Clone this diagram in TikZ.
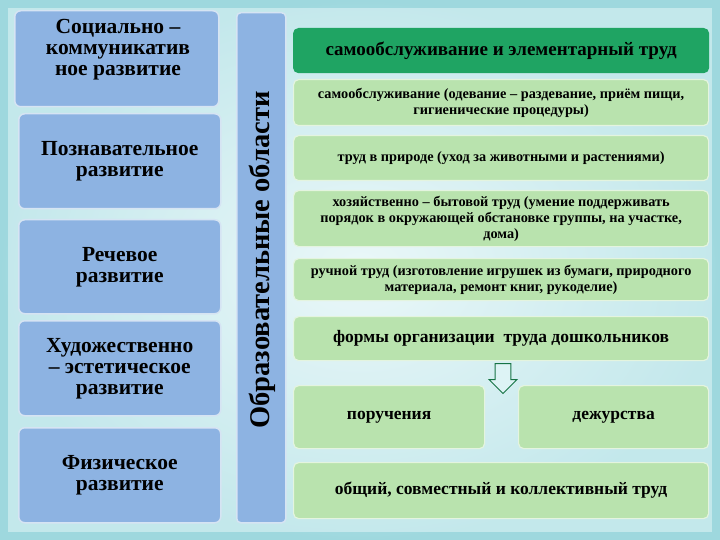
\documentclass[tikz,border=0pt]{standalone}
\usepackage{fontspec}
\setmainfont{Liberation Serif}
\usetikzlibrary{shapes.arrows}
\definecolor{bgc}{HTML}{DDF3F5}
\definecolor{bgedge}{HTML}{9ED8DE}
\definecolor{lblue}{HTML}{8DB3E2}
\definecolor{lbedge}{HTML}{D6E4F3}
\definecolor{lgreen}{HTML}{B9E3AE}
\definecolor{dgreen}{HTML}{1FA463}
\definecolor{gedge}{HTML}{E4F4DF}
\tikzset{
 lbox/.style={draw=lbedge,line width=1.5pt,fill=lblue,rounded corners=6pt,align=center,font=\bfseries\fontsize{21.5}{21}\selectfont},
 gbox/.style={draw=gedge,line width=1.2pt,fill=lgreen,rounded corners=5pt,align=center,font=\bfseries\fontsize{14.3}{16}\selectfont},
 bigg/.style={font=\bfseries\fontsize{17.5}{19}\selectfont},
}
\begin{document}
\begin{tikzpicture}[x=1pt,y=-1pt]
\useasboundingbox (0,0) rectangle (720,540);
\shade[inner color=white,outer color=bgedge] (0,0) rectangle (720,540);
\fill[bgc,opacity=0.6] (8,8) rectangle (712,532);
% left
\node[lbox,minimum width=204pt,minimum height=96pt,anchor=north west] (l1) at (14,10) {};
\node[align=center,font=\bfseries\fontsize{21.5}{21}\selectfont] at (118,50) {Социально –\\коммуникатив\\ное развитие};
\node[lbox,minimum width=202pt,minimum height=95pt,anchor=north west] (l2) at (18,113) {Познавательное\\развитие};
\node[lbox,minimum width=202pt,minimum height=94pt,anchor=north west] (l3) at (18,219) {Речевое\\развитие};
\node[lbox,minimum width=202pt,minimum height=95pt,anchor=north west] (l4) at (18,320) {Художественно\\– эстетическое\\развитие};
\node[lbox,minimum width=202pt,minimum height=95pt,anchor=north west] (l5) at (18,427) {Физическое\\развитие};
\node[draw=lbedge,line width=1.5pt,fill=lblue,rounded corners=4pt,minimum width=49pt,minimum height=510pt,anchor=north west] (v) at (236,12) {};
\node[rotate=90,font=\bfseries\fontsize{28.5}{30}\selectfont] (vt) at (262,260) {Образовательные области};
% right
\node[gbox,fill=dgreen,draw=dgreen,minimum width=415pt,minimum height=44pt,anchor=north west,font=\bfseries\fontsize{19}{20}\selectfont] (t) at (293,28) {самообслуживание и элементарный труд};
\node[gbox,minimum width=415pt,minimum height=46pt,anchor=north west] (b1) at (293,79) {самообслуживание (одевание – раздевание, приём пищи,\\гигиенические процедуры)};
\node[gbox,minimum width=415pt,minimum height=45pt,anchor=north west] (b2) at (293,135) {труд в природе (уход за животными и растениями)};
\node[gbox,minimum width=415pt,minimum height=56pt,anchor=north west] (b3) at (293,190) {хозяйственно – бытовой труд (умение поддерживать\\порядок в окружающей обстановке группы, на участке,\\дома)};
\node[gbox,minimum width=415pt,minimum height=42pt,anchor=north west] (b4) at (293,258) {ручной труд (изготовление игрушек из бумаги, природного\\материала, ремонт книг, рукоделие)};
\node[gbox,minimum width=415pt,minimum height=44pt,anchor=north west,bigg] (b5) at (293,316) {формы организации\ \ труда дошкольников};
\node[single arrow,shape border rotate=270,draw=dgreen!70!black,fill=bgc,line width=1pt,minimum width=28pt,single arrow head extend=3pt,minimum height=30pt,anchor=north] (ar) at (503,363) {};
\node[gbox,minimum width=191pt,minimum height=63pt,anchor=north west,bigg] (b6) at (293,385) {поручения};
\node[gbox,minimum width=190pt,minimum height=63pt,anchor=north west,bigg] (b7) at (518,385) {дежурства};
\node[gbox,minimum width=415pt,minimum height=56pt,anchor=north west,bigg] (b8) at (293,462) {общий,\ совместный и коллективный труд};
\end{tikzpicture}
\end{document}
